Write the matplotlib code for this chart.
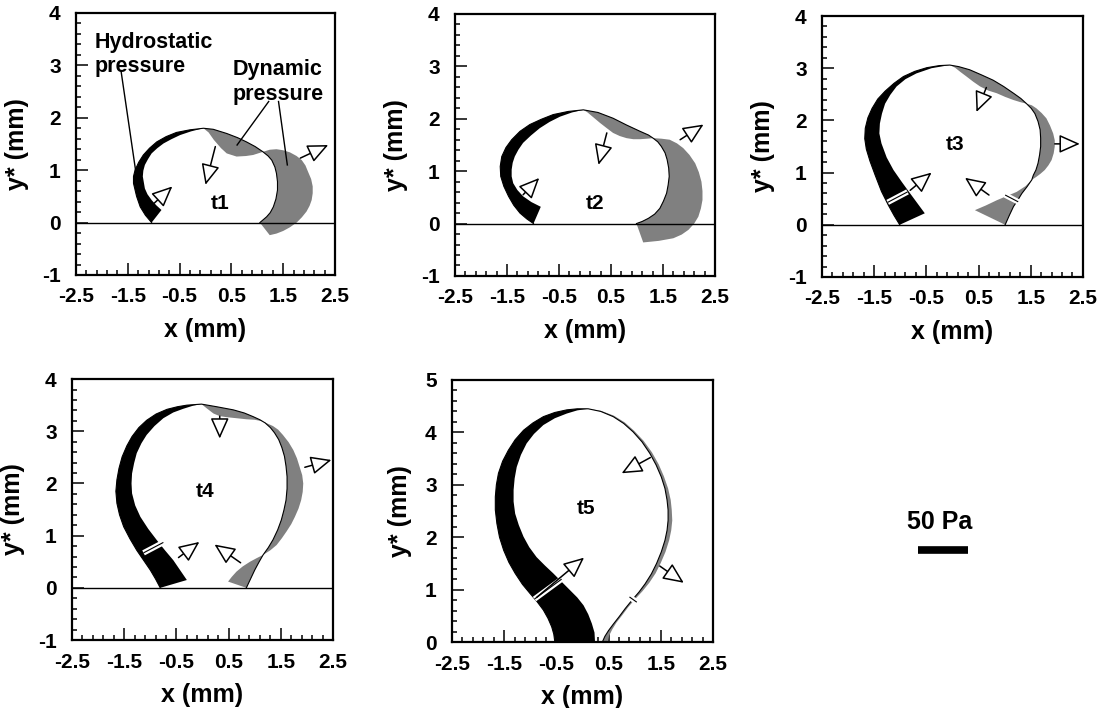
import matplotlib.pyplot as plt
import numpy as np

plt.rcParams['font.family'] = ['Liberation Sans', 'DejaVu Sans']
plt.rcParams['font.weight'] = 'bold'
plt.rcParams['axes.unicode_minus'] = False

GREY = '#808080'

# ---- t1 ----
t1_left_x = [-1.04, -1.16, -1.26, -1.33, -1.39, -1.39, -1.36, -1.29, -1.20, -1.08, -0.94,
             -0.76, -0.56, -0.30, -0.04]
t1_left_y = [0.00, 0.14, 0.30, 0.50, 0.75, 0.88, 1.00, 1.15, 1.29, 1.42, 1.54,
             1.64, 1.72, 1.77, 1.80]
t1_hydro_x = [-0.85, -0.95, -1.04, -1.12, -1.17, -1.21, -1.20, -1.17, -1.11, -1.04, -0.93,
              -0.81, -0.66, -0.49, -0.28, -0.04]
t1_hydro_y = [0.24, 0.33, 0.43, 0.54, 0.65, 0.88, 0.99, 1.10, 1.21, 1.32, 1.42,
              1.51, 1.59, 1.67, 1.74, 1.80]
t1_right_x = [-0.04, 0.15, 0.41, 0.62, 0.79, 0.96, 1.11, 1.21, 1.28, 1.34, 1.37, 1.39,
              1.39, 1.36, 1.31, 1.25, 1.18, 1.05]
t1_right_y = [1.80, 1.78, 1.70, 1.62, 1.54, 1.45, 1.35, 1.27, 1.19, 1.06, 0.94, 0.78,
              0.62, 0.45, 0.30, 0.19, 0.11, 0.00]
t1_dyn_x = [-0.04, 0.06, 0.16, 0.30, 0.41, 0.60, 0.78, 0.92, 1.11,
            1.24, 1.37, 1.50, 1.63, 1.76, 1.86, 1.93, 1.98, 2.04, 2.07, 2.07, 2.05,
            2.01, 1.95, 1.86, 1.76, 1.63, 1.50, 1.37, 1.24]
t1_dyn_y = [1.80, 1.72, 1.58, 1.42, 1.32, 1.26, 1.27, 1.29, 1.35,
            1.39, 1.40, 1.38, 1.34, 1.27, 1.19, 1.09, 0.97, 0.83, 0.69, 0.56, 0.43,
            0.32, 0.21, 0.10, 0.00, -0.09, -0.16, -0.21, -0.24]

# ---- t2 ----
t2_left_x = [-0.99, -1.12, -1.25, -1.37, -1.47, -1.56, -1.62, -1.63, -1.60, -1.52, -1.41,
             -1.25, -1.06, -0.84, -0.61, -0.32, -0.03]
t2_left_y = [0.00, 0.09, 0.20, 0.35, 0.52, 0.71, 0.90, 1.09, 1.28, 1.45, 1.60,
             1.76, 1.89, 1.99, 2.08, 2.14, 2.17]
t2_hydro_x = [-0.85, -1.03, -1.19, -1.30, -1.38, -1.41, -1.41, -1.39, -1.35, -1.28, -1.19,
              -1.04, -0.87, -0.68, -0.48, -0.25, -0.03]
t2_hydro_y = [0.32, 0.41, 0.52, 0.64, 0.77, 0.90, 1.03, 1.16, 1.28, 1.41, 1.54,
              1.68, 1.82, 1.94, 2.04, 2.12, 2.17]
t2_right_x = [-0.03, 0.25, 0.54, 0.80, 1.06, 1.22, 1.31, 1.40, 1.47, 1.54, 1.58, 1.61,
              1.62, 1.60, 1.57, 1.51, 1.44, 1.34, 1.22, 1.10, 0.99]
t2_right_y = [2.17, 2.12, 2.01, 1.88, 1.76, 1.69, 1.63, 1.56, 1.47, 1.35, 1.22, 1.06,
              0.90, 0.74, 0.58, 0.43, 0.29, 0.18, 0.10, 0.04, 0.00]
t2_dyn_x = [-0.03, 0.05, 0.17, 0.29, 0.42, 0.54, 0.67, 0.80, 0.93, 1.06, 1.20, 1.31,
            1.47, 1.63, 1.77, 1.89, 2.01, 2.12, 2.19, 2.24, 2.26, 2.26, 2.23, 2.18,
            2.10, 1.99, 1.86, 1.70, 1.42, 1.12]
t2_dyn_y = [2.17, 2.12, 2.02, 1.92, 1.82, 1.73, 1.67, 1.63, 1.61, 1.61, 1.62, 1.63,
            1.62, 1.60, 1.53, 1.44, 1.31, 1.15, 0.98, 0.80, 0.62, 0.45, 0.29, 0.13,
            0.00, -0.12, -0.21, -0.28, -0.33, -0.36]

# ---- t3 ----
t3_left_x = [-1.01, -1.12, -1.23, -1.36, -1.48, -1.58, -1.65, -1.68, -1.67, -1.62, -1.54,
             -1.43, -1.29, -1.12, -0.94, -0.72, -0.49, -0.25, -0.05]
t3_left_y = [0.00, 0.18, 0.38, 0.64, 0.95, 1.22, 1.45, 1.65, 1.85, 2.05, 2.23,
             2.41, 2.56, 2.71, 2.84, 2.94, 3.01, 3.05, 3.06]
t3_hydro_x = [-0.53, -0.67, -0.81, -0.97, -1.13, -1.26, -1.36, -1.40, -1.39, -1.35, -1.29,
              -1.19, -1.07, -0.90, -0.69, -0.40, -0.05]
t3_hydro_y = [0.22, 0.41, 0.60, 0.82, 1.05, 1.29, 1.56, 1.75, 1.94, 2.13, 2.32,
              2.49, 2.65, 2.79, 2.90, 3.00, 3.06]
t3_right_x = [-0.05, 0.12, 0.33, 0.56, 0.78, 0.98, 1.17, 1.31, 1.42, 1.51, 1.58, 1.64,
              1.68, 1.69, 1.69, 1.67, 1.64, 1.60, 1.55, 1.52, 1.43, 1.33, 1.25, 1.17,
              1.09, 1.01]
t3_right_y = [3.06, 3.03, 2.97, 2.87, 2.77, 2.65, 2.52, 2.42, 2.32, 2.23, 2.13, 1.98,
              1.82, 1.66, 1.50, 1.34, 1.18, 1.05, 0.95, 0.86, 0.73, 0.60, 0.47, 0.35,
              0.18, 0.00]
t3_dyn_x = [-0.05, 0.05, 0.15, 0.27, 0.40, 0.53, 0.69, 0.85, 1.01, 1.17, 1.30, 1.42,
            1.52, 1.61, 1.71, 1.80, 1.87, 1.93, 1.96, 1.96, 1.94, 1.90, 1.84, 1.77,
            1.69, 1.61, 1.52, 1.40, 1.23, 1.04, 0.85, 0.64, 0.43]
t3_dyn_y = [3.06, 3.01, 2.93, 2.84, 2.74, 2.65, 2.57, 2.52, 2.45, 2.39, 2.35, 2.32,
            2.29, 2.23, 2.14, 2.04, 1.90, 1.75, 1.62, 1.50, 1.37, 1.24, 1.14, 1.05,
            0.98, 0.92, 0.86, 0.74, 0.63, 0.55, 0.47, 0.37, 0.28]

# ---- t4 ----
t4_left_x = [-0.81, -0.90, -1.00, -1.13, -1.26, -1.39, -1.51, -1.59, -1.64, -1.66, -1.64,
             -1.60, -1.54, -1.45, -1.35, -1.22, -1.07, -0.89, -0.68, -0.48, -0.30, -0.02]
t4_left_y = [0.00, 0.17, 0.34, 0.53, 0.72, 0.94, 1.17, 1.40, 1.62, 1.85, 2.07,
             2.29, 2.51, 2.72, 2.90, 3.07, 3.21, 3.33, 3.42, 3.47, 3.50, 3.52]
t4_hydro_x = [-0.30, -0.43, -0.56, -0.72, -0.88, -1.04, -1.19, -1.29, -1.35, -1.36, -1.35,
              -1.31, -1.26, -1.17, -1.07, -0.92, -0.75, -0.56, -0.37, -0.18, -0.02]
t4_hydro_y = [0.15, 0.34, 0.53, 0.72, 0.92, 1.13, 1.36, 1.58, 1.81, 2.00, 2.19,
              2.39, 2.58, 2.77, 2.93, 3.10, 3.25, 3.36, 3.43, 3.49, 3.52]
t4_right_x = [-0.02, 0.27, 0.59, 0.80, 0.97, 1.10, 1.20, 1.30, 1.38, 1.46, 1.52, 1.57,
              1.60, 1.62, 1.62, 1.60, 1.56, 1.51, 1.44, 1.35, 1.26, 1.16, 1.08, 1.00,
              0.92, 0.84]
t4_right_y = [3.52, 3.47, 3.41, 3.35, 3.28, 3.22, 3.16, 3.07, 2.97, 2.84, 2.69, 2.52,
              2.33, 2.13, 1.90, 1.68, 1.49, 1.30, 1.11, 0.92, 0.77, 0.63, 0.49, 0.34,
              0.17, 0.00]
t4_dyn_x = [-0.02, 0.08, 0.21, 0.33, 0.46, 0.65, 0.84, 1.00, 1.15,
            1.35, 1.45, 1.54, 1.65, 1.74, 1.81, 1.86, 1.91, 1.93, 1.92, 1.89, 1.84,
            1.77, 1.70, 1.61, 1.52, 1.42, 1.30, 1.16,
            1.04, 0.91, 0.77, 0.65, 0.56, 0.49]
t4_dyn_y = [3.52, 3.44, 3.34, 3.29, 3.27, 3.25, 3.23, 3.22, 3.19,
            3.10, 3.03, 2.93, 2.79, 2.64, 2.48, 2.32, 2.16, 2.00, 1.84, 1.68, 1.52,
            1.36, 1.22, 1.08, 0.95, 0.82, 0.72, 0.63,
            0.57, 0.50, 0.41, 0.31, 0.21, 0.12]

# ---- t5 ----
t5_left_x = [-0.53, -0.55, -0.59, -0.66, -0.75, -0.87, -1.00, -1.15, -1.29, -1.41, -1.51,
             -1.59, -1.64, -1.67, -1.67, -1.65, -1.61, -1.53, -1.42, -1.29, -1.13, -0.95,
             -0.75, -0.53, -0.30, -0.10, 0.11]
t5_left_y = [0.00, 0.15, 0.29, 0.45, 0.61, 0.77, 0.92, 1.10, 1.31, 1.52, 1.75,
             2.00, 2.26, 2.52, 2.77, 3.00, 3.22, 3.45, 3.66, 3.86, 4.04, 4.18,
             4.30, 4.38, 4.43, 4.45, 4.45]
t5_hydro_x = [0.24, 0.23, 0.18, 0.11, 0.02, -0.10, -0.24, -0.40, -0.56, -0.72, -0.88,
              -1.02, -1.13, -1.22, -1.29, -1.32, -1.32, -1.30, -1.26, -1.18, -1.07, -0.93,
              -0.75, -0.53, -0.30, -0.10, 0.11]
t5_hydro_y = [0.00, 0.18, 0.35, 0.53, 0.70, 0.85, 0.99, 1.15, 1.31, 1.46, 1.62,
              1.81, 2.01, 2.23, 2.45, 2.68, 2.90, 3.12, 3.34, 3.57, 3.79, 3.97,
              4.14, 4.27, 4.36, 4.42, 4.45]
t5_right_x = [0.11, 0.35, 0.59, 0.79, 0.97, 1.14, 1.29, 1.41, 1.51, 1.58, 1.62, 1.64,
              1.64, 1.62, 1.58, 1.51, 1.42, 1.32, 1.20, 1.08, 0.95, 0.82, 0.70, 0.59,
              0.50, 0.43, 0.38]
t5_right_y = [4.45, 4.40, 4.30, 4.17, 4.01, 3.82, 3.60, 3.38, 3.15, 2.93, 2.71, 2.52,
              2.32, 2.13, 1.94, 1.72, 1.50, 1.30, 1.11, 0.95, 0.80, 0.64, 0.48, 0.34,
              0.22, 0.11, 0.00]
t5_dyn_x = [0.11, 0.36, 0.60, 0.81, 0.99, 1.17, 1.33, 1.46, 1.56, 1.64, 1.69, 1.71,
            1.72, 1.70, 1.66, 1.59, 1.50, 1.40, 1.28, 1.15, 1.02, 0.88, 0.76, 0.65,
            0.57, 0.51, 0.48]
t5_dyn_y = [4.45, 4.41, 4.32, 4.19, 4.03, 3.84, 3.62, 3.39, 3.16, 2.93, 2.71, 2.52,
            2.32, 2.13, 1.94, 1.72, 1.51, 1.31, 1.13, 0.97, 0.83, 0.67, 0.51, 0.37,
            0.24, 0.12, 0.00]

# arrows: (tail x, tail y, tip x, tip y)
t1_arrows = [(-0.99, 0.37, -0.64, 0.69), (0.19, 1.45, 0.00, 0.72), (1.83, 1.23, 2.37, 1.48)]
t2_arrows = [(-1.19, 0.55, -0.88, 0.87), (0.42, 1.73, 0.26, 1.12), (1.83, 1.60, 2.28, 1.89)]
t3_arrows = [(-0.81, 0.66, -0.40, 1.00), (0.65, 2.63, 0.46, 2.16),
             (1.96, 1.55, 2.44, 1.55), (0.70, 0.57, 0.24, 0.90)]
t4_arrows = [(-0.46, 0.58, -0.06, 0.88), (0.33, 3.29, 0.33, 2.86),
             (1.96, 2.31, 2.47, 2.45), (0.73, 0.48, 0.23, 0.83)]
t5_arrows = [(-0.88, 0.85, 0.03, 1.61), (1.30, 3.52, 0.75, 3.22), (1.48, 1.45, 1.94, 1.13)]

# white break marks across the bands: (x0, y0, x1, y1)
t3_breaks = [(-1.24, 0.43, -0.86, 0.63), (1.01, 0.57, 1.26, 0.44)]
t4_breaks = [(-1.13, 0.67, -0.75, 0.87)]
t5_breaks = [(-0.92, 0.82, -0.40, 1.20), (0.90, 0.86, 1.04, 0.76)]

labels = ['t1', 't2', 't3', 't4', 't5']
label_pos = [(0.29, 0.37), (0.19, 0.39), (0.05, 1.53), (0.05, 1.84), (0.07, 2.55)]
y_limits = [(-1, 4), (-1, 4), (-1, 4), (-1, 4), (0, 5)]

axes_rects = [
    [0.0689, 0.6116, 0.2348, 0.3701],
    [0.4125, 0.6102, 0.2357, 0.3701],
    [0.7452, 0.6088, 0.2366, 0.3686],
    [0.0653, 0.0960, 0.2366, 0.3686],
    [0.4098, 0.0932, 0.2366, 0.3701],
]

panels = [
    (t1_left_x, t1_left_y, t1_hydro_x, t1_hydro_y, t1_right_x, t1_right_y, t1_dyn_x, t1_dyn_y, t1_arrows, []),
    (t2_left_x, t2_left_y, t2_hydro_x, t2_hydro_y, t2_right_x, t2_right_y, t2_dyn_x, t2_dyn_y, t2_arrows, []),
    (t3_left_x, t3_left_y, t3_hydro_x, t3_hydro_y, t3_right_x, t3_right_y, t3_dyn_x, t3_dyn_y, t3_arrows, t3_breaks),
    (t4_left_x, t4_left_y, t4_hydro_x, t4_hydro_y, t4_right_x, t4_right_y, t4_dyn_x, t4_dyn_y, t4_arrows, t4_breaks),
    (t5_left_x, t5_left_y, t5_hydro_x, t5_hydro_y, t5_right_x, t5_right_y, t5_dyn_x, t5_dyn_y, t5_arrows, t5_breaks),
]

fig = plt.figure(figsize=(11.03, 7.08), dpi=100)
axes = []

for i, (lx, ly, hx, hy, rx, ry, dx, dy, arrows, breaks) in enumerate(panels):
    ax = fig.add_axes(axes_rects[i])
    axes.append(ax)

    # pressure bands
    ax.fill(lx + hx[::-1], ly + hy[::-1], color='black', lw=0, zorder=2)
    ax.fill(rx + dx[::-1], ry + dy[::-1], color=GREY, lw=0, zorder=2)
    # bubble contour
    ax.plot(lx + rx, ly + ry, color='black', lw=0.8, zorder=3)

    for x0, y0, x1, y1 in breaks:
        ax.plot([x0, x1], [y0, y1], color='white', lw=4, solid_capstyle='butt', zorder=4)
        ax.plot([x0, x1], [y0, y1], color='black', lw=0.8, solid_capstyle='butt', zorder=4)

    for x0, y0, x1, y1 in arrows:
        ax.annotate('', xy=(x1, y1), xytext=(x0, y0),
                    arrowprops=dict(arrowstyle='-|>,head_length=0.85,head_width=0.38',
                                    mutation_scale=15, fc='white', ec='black', lw=1.1,
                                    shrinkA=0, shrinkB=0), zorder=5)

    ymin, ymax = y_limits[i]
    if ymin < 0:
        ax.axhline(0, color='black', lw=1.0, zorder=4)

    ax.text(label_pos[i][0], label_pos[i][1], labels[i], fontsize=15,
            fontweight='bold', ha='center', va='center')

    ax.set_xlim(-2.5, 2.5)
    ax.set_ylim(ymin, ymax)
    xt = [-2.5, -1.5, -0.5, 0.5, 1.5, 2.5]
    ax.set_xticks(xt)
    ax.set_xticklabels([f'{v:g}' for v in xt])
    ax.set_xticks(np.arange(-2.5, 2.51, 0.2), minor=True)
    yt = list(range(ymin, ymax + 1))
    ax.set_yticks(yt)
    ax.set_yticklabels([str(v) for v in yt])
    ax.set_yticks(np.arange(ymin, ymax + 0.01, 0.2), minor=True)
    ax.tick_params(which='both', direction='in', top=False, right=False,
                   labelsize=15, width=1.1)
    ax.tick_params(which='major', length=8.5)
    ax.tick_params(axis='x', which='major', pad=9)
    ax.tick_params(axis='y', which='major', pad=11)
    ax.tick_params(which='minor', length=3.8)
    for s in ax.spines.values():
        s.set_linewidth(1.6)
    ax.set_xlabel('x (mm)', fontsize=18, fontweight='bold', labelpad=8)
    ax.set_ylabel('y* (mm)', fontsize=18, fontweight='bold', labelpad=9)

# annotations on t1
ax = axes[0]
ax.text(-2.15, 3.43, 'Hydrostatic', fontsize=15.5, fontweight='bold', ha='left', va='center')
ax.text(-2.15, 2.98, 'pressure', fontsize=15.5, fontweight='bold', ha='left', va='center')
ax.text(0.53, 2.92, 'Dynamic', fontsize=15.5, fontweight='bold', ha='left', va='center')
ax.text(0.53, 2.44, 'pressure', fontsize=15.5, fontweight='bold', ha='left', va='center')
ax.plot([-1.63, -1.35], [2.89, 1.00], color='black', lw=1)
ax.plot([1.22, 0.61], [2.31, 1.48], color='black', lw=1)
ax.plot([1.41, 1.58], [2.31, 1.10], color='black', lw=1)

# scale bar
fig.text(0.852, 0.263, '50 Pa', fontsize=18, fontweight='bold', ha='center', va='center')
fig.add_artist(plt.Line2D([0.832, 0.878], [0.223, 0.223], color='black', lw=5.5,
                          solid_capstyle='butt'))

fig.savefig('out.png', dpi=100)
